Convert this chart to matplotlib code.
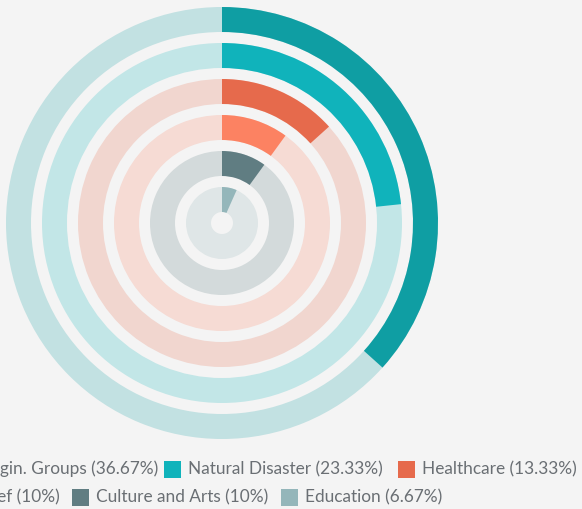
import matplotlib
matplotlib.use("Agg")
import matplotlib.pyplot as plt
from matplotlib.patches import Wedge, Rectangle
from matplotlib.colors import to_rgb

# ---- data ----
categories = ["Margin. Groups", "Natural Disaster", "Healthcare",
              "Poverty Relief", "Culture and Arts", "Education"]
values = [36.67, 23.33, 13.33, 10, 10, 6.67]
colors = ["#0F9EA3", "#10B3BB", "#E66A4C", "#FC8262", "#607D82", "#94B6BA"]
legend_labels = ["Margin. Groups (36.67%)", "Natural Disaster (23.33%)",
                 "Healthcare (13.33%)", "Poverty Relief (10%)",
                 "Culture and Arts (10%)", "Education (6.67%)"]

W, H = 582, 509
BG = "#F4F4F4"

fig = plt.figure(figsize=(W / 100, H / 100), dpi=100, facecolor=BG)
ax = fig.add_axes([0, 0, 1, 1])
ax.set_xlim(0, W)
ax.set_ylim(0, H)
ax.set_aspect("equal")
ax.axis("off")
ax.set_facecolor(BG)

def blend(c, a):
    r, g, b = to_rgb(c)
    br, bg_, bb = to_rgb(BG)
    return (r * a + br * (1 - a), g * a + bg_ * (1 - a), b * a + bb * (1 - a))

cx, cy = 222, H - 223
outer = 216
pitch = 36
width = 25

for i, (v, c) in enumerate(zip(values, colors)):
    r = outer - i * pitch
    ax.add_patch(Wedge((cx, cy), r, 0, 360, width=width, facecolor=blend(c, 0.22),
                       edgecolor="none"))
    ang = 360 * v / 100
    ax.add_patch(Wedge((cx, cy), r, 90 - ang, 90, width=width, facecolor=c,
                       edgecolor="none"))

# ---- legend ----
font = ["Lato", "DejaVu Sans"]
txt_color = "#6A6F74"
fs = 12.4
msz = 17
row_y = [H - 469, H - 497]
layout = [
    (0, 158, "right"), (0, 188, "left"), (0, 422, "left"),
    (1, 60, "right"), (1, 96, "left"), (1, 305, "left"),
]
for (row, x, ha), lab, c in zip(layout, legend_labels, colors):
    y = row_y[row]
    ax.text(x, y, lab, ha=ha, va="center", fontsize=fs, color=txt_color,
            family=font)
    if ha == "left":
        mx = x - 7 - msz
        ax.add_patch(Rectangle((mx, y - msz / 2), msz, msz, facecolor=c,
                               edgecolor="none"))

fig.savefig("out.png", dpi=100, facecolor=BG)
